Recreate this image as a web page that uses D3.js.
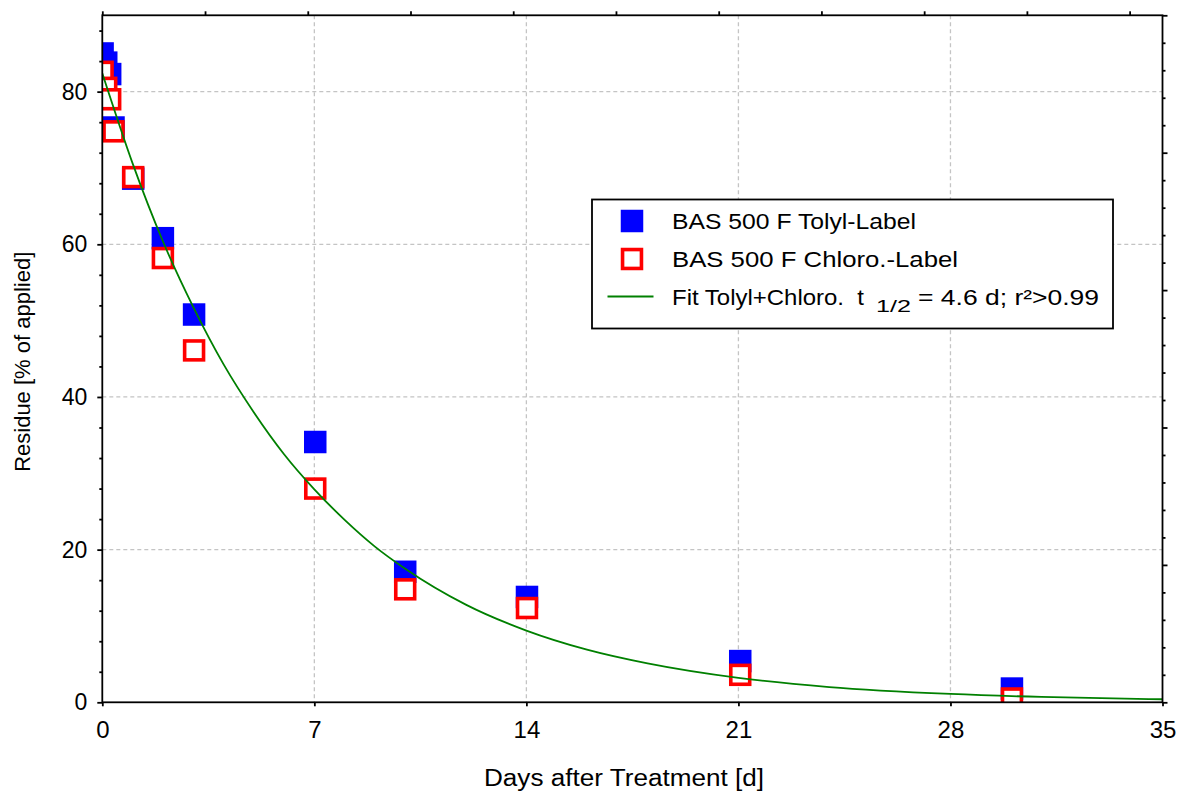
<!DOCTYPE html>
<html>
<head>
<meta charset="utf-8">
<script src="https://cdn.jsdelivr.net/npm/d3@7/dist/d3.min.js"></script>
<style>
  html, body { margin: 0; padding: 0; background: #fff; }
  svg { display: block; }
  text { font-family: "Liberation Sans", Arial, sans-serif; fill: #000; }
</style>
</head>
<body>
<svg id="chart" width="1180" height="791"></svg>
<script>
// ---------------- data ----------------
const days = [0.01, 0.13, 0.26, 0.37, 1.02, 2.0, 3.03, 7.03, 10.0, 14.02, 21.06, 30.03];
const tolylValues  = [85.0, 83.8, 82.3, 75.3, 68.6, 60.8, 50.8, 34.1, 17.1, 13.8, 5.4, 1.8];
const chloroValues = [82.6, 80.5, 79.0, 74.8, 68.8, 58.2, 46.1, 28.0, 14.8, 12.35, 3.6, 0.5];
const fitDays   = [0, 1, 2, 3, 4, 5, 6, 7, 8, 9, 10, 12, 14, 16, 18, 21, 24, 28, 31, 35];
const fitValues = [82.4, 70.6, 60.4, 51.8, 44.3, 38.0, 32.5, 27.9, 23.9, 20.4, 17.5, 12.8, 9.4, 6.9, 5.1, 3.2, 2.0, 1.1, 0.7, 0.4];
const xTicks = [0, 7, 14, 21, 28, 35];
const yTicks = [0, 20, 40, 60, 80];
const legendLabels = ["BAS 500 F Tolyl-Label", "BAS 500 F Chloro.-Label"];
const fitLabel = { pre: "Fit Tolyl+Chloro.  t", sub: "1/2", post: "= 4.6 d; r\u00B2>0.99" };
const xTitle = "Days after Treatment [d]";
const yTitle = "Residue [% of applied]";

// ---------------- layout ----------------
const svg = d3.select("#chart");
const L = 102.3, R = 1162.5, T = 15.3, B = 702.3;
const x = d3.scaleLinear().domain([0, 35]).range([L, R]);
const y = d3.scaleLinear().domain([0, 90]).range([B, T]);
const xTop = d3.scaleLinear().domain([0, 10.32]).range([L, R]);
const yRight = d3.scaleLinear().domain([0, 5]).range([B, T]);

svg.append("defs").append("clipPath").attr("id", "plotclip")
  .append("rect").attr("x", L).attr("y", T).attr("width", R - L).attr("height", B - T);

// grid
const grid = svg.append("g").attr("stroke", "#c4c4c4").attr("stroke-width", 1.3).attr("stroke-dasharray", "4,3");
grid.selectAll("line.gx").data(xTicks.filter(d => d > 0 && d < 35)).join("line")
  .attr("x1", d => x(d)).attr("x2", d => x(d)).attr("y1", T).attr("y2", B);
grid.selectAll("line.gy").data(yTicks.filter(d => d > 0)).join("line")
  .attr("x1", L).attr("x2", R).attr("y1", d => y(d)).attr("y2", d => y(d));

// markers
const plot = svg.append("g").attr("clip-path", "url(#plotclip)");
const S = 22.5;
plot.selectAll("rect.tolyl").data(days.map((d, i) => [d, tolylValues[i]])).join("rect")
  .attr("x", d => x(d[0]) - S / 2).attr("y", d => y(d[1]) - S / 2)
  .attr("width", S).attr("height", S).attr("fill", "#0000ff");
const SW = 3.6;
plot.selectAll("rect.chloro").data(days.map((d, i) => [d, chloroValues[i]])).join("rect")
  .attr("x", d => x(d[0]) - S / 2 + SW / 2).attr("y", d => y(d[1]) - S / 2 + SW / 2)
  .attr("width", S - SW).attr("height", S - SW)
  .attr("fill", "#fff").attr("stroke", "#ff0000").attr("stroke-width", SW);

// fit line
const line = d3.line().x(d => x(d[0])).y(d => y(d[1])).curve(d3.curveMonotoneX);
plot.append("path").datum(fitDays.map((d, i) => [d, fitValues[i]]))
  .attr("d", line).attr("fill", "none").attr("stroke", "#008000").attr("stroke-width", 1.8);

// axes
const axW = 1.8;
const axG = svg.append("g");
function styleAxis(g) {
  g.select(".domain").remove();
  g.selectAll(".tick line").attr("stroke", "#000").attr("stroke-width", axW);
}
const FONT = "Liberation Sans, Arial, sans-serif";
// bottom
const gB = axG.append("g").attr("transform", `translate(0,${B})`)
  .call(d3.axisBottom(x).tickValues(xTicks).tickSize(4).tickPadding(15).tickFormat(d3.format("d")));
styleAxis(gB);
gB.selectAll("text").attr("font-size", 24).attr("font-family", FONT).attr("fill", "#000");
// left minor + major
const gLm = axG.append("g").attr("transform", `translate(${L},0)`)
  .call(d3.axisLeft(y).tickValues(d3.range(0, 90, 4).filter(v => v % 20 !== 0)).tickSize(3).tickFormat(""));
styleAxis(gLm);
const gL = axG.append("g").attr("transform", `translate(${L},0)`)
  .call(d3.axisLeft(y).tickValues(yTicks).tickSize(5).tickPadding(10).tickFormat(d3.format("d")));
styleAxis(gL);
gL.selectAll("text").attr("font-size", 23).attr("font-family", FONT).attr("fill", "#000");
// top
const gT = axG.append("g").attr("transform", `translate(0,${T})`)
  .call(d3.axisTop(xTop).tickValues(d3.range(0, 11, 1)).tickSize(4).tickFormat(""));
styleAxis(gT);
// right
const gRm = axG.append("g").attr("transform", `translate(${R},0)`)
  .call(d3.axisRight(yRight).tickValues(d3.range(0, 5.01, 0.2).filter(v => Math.abs(v - Math.round(v)) > 0.01)).tickSize(3).tickFormat(""));
styleAxis(gRm);
const gR = axG.append("g").attr("transform", `translate(${R},0)`)
  .call(d3.axisRight(yRight).tickValues([0, 1, 2, 3, 4, 5]).tickSize(5).tickFormat(""));
styleAxis(gR);

// frame
svg.append("rect").attr("x", L).attr("y", T).attr("width", R - L).attr("height", B - T)
  .attr("fill", "none").attr("stroke", "#000").attr("stroke-width", axW);

// axis titles
svg.append("text").attr("x", 484).attr("y", 786)
  .attr("font-size", 23).attr("textLength", 280).attr("lengthAdjust", "spacingAndGlyphs").text(xTitle);
svg.append("text").attr("transform", `translate(30,${(T + B) / 2 + 3}) rotate(-90)`)
  .attr("text-anchor", "middle").attr("font-size", 22).text(yTitle);

// legend
const lg = svg.append("g");
lg.append("rect").attr("x", 592).attr("y", 199.5).attr("width", 521).attr("height", 129)
  .attr("fill", "#fff").attr("stroke", "#000").attr("stroke-width", axW);
const rowY = [221, 259, 296.5];
const mx = 632;
lg.append("rect").attr("x", mx - S / 2).attr("y", rowY[0] - S / 2).attr("width", S).attr("height", S).attr("fill", "#0000ff");
lg.append("rect").attr("x", mx - S / 2 + SW / 2).attr("y", rowY[1] - S / 2 + SW / 2)
  .attr("width", S - SW).attr("height", S - SW).attr("fill", "#fff").attr("stroke", "#ff0000").attr("stroke-width", SW);
lg.append("line").attr("x1", 607.5).attr("x2", 653.5).attr("y1", rowY[2]).attr("y2", rowY[2])
  .attr("stroke", "#008000").attr("stroke-width", 1.8);
const tx = 672;
const widths = [244, 286];
legendLabels.forEach((t, i) => {
  lg.append("text").attr("x", tx).attr("y", rowY[i] + 8).attr("font-size", 22)
    .attr("textLength", widths[i]).attr("lengthAdjust", "spacingAndGlyphs").text(t);
});
lg.append("text").attr("x", tx).attr("y", rowY[2] + 8).attr("font-size", 22).style("white-space", "pre")
  .attr("textLength", 192).attr("lengthAdjust", "spacingAndGlyphs").text(fitLabel.pre);
lg.append("text").attr("x", 876).attr("y", rowY[2] + 15).attr("font-size", 17)
  .attr("textLength", 35).attr("lengthAdjust", "spacingAndGlyphs").text(fitLabel.sub);
lg.append("text").attr("x", 918).attr("y", rowY[2] + 8).attr("font-size", 22)
  .attr("textLength", 181).attr("lengthAdjust", "spacingAndGlyphs").text(fitLabel.post);
</script>
</body>
</html>
